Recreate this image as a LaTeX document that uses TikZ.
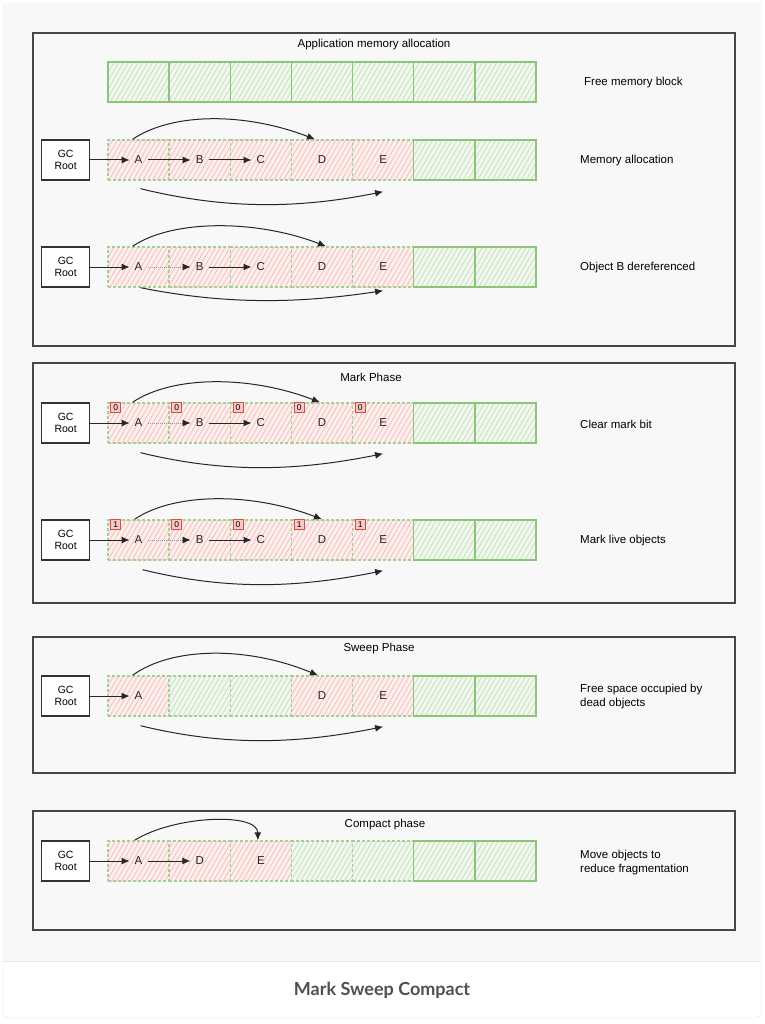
\documentclass[tikz,border=0pt]{standalone}
\usepackage{fontspec}
\setmainfont{Liberation Sans}
\newfontfamily\capfont{Lato}
\usetikzlibrary{arrows.meta,positioning,calc,patterns.meta}
\definecolor{pagebg}{HTML}{F8F8F8}
\definecolor{pageline}{HTML}{E6E6E6}
\definecolor{greenline}{HTML}{8CC47A}
\definecolor{greenfill}{HTML}{F2F8EF}
\definecolor{greenhatch}{HTML}{CDE5C3}
\definecolor{redfill}{HTML}{FCEFED}
\definecolor{redhatch}{HTML}{F5C6C1}
\definecolor{bitline}{HTML}{D0504A}
\definecolor{bitfill}{HTML}{F7C8C4}
\definecolor{captext}{HTML}{505050}

\begin{document}
\begin{tikzpicture}[x=1pt,y=-1pt,
  panel/.style={draw=black!72,line width=1.6pt,minimum width=702pt,inner sep=0pt},
  title/.style={font=\fontsize{11.5}{13}\selectfont,inner sep=1pt},
  cellbox/.style={minimum width=61.14pt,minimum height=40pt,inner sep=0pt,line width=1.4pt,
    pattern={Lines[angle=60,distance=4.2pt,line width=1pt]}},
  dashedge/.style={postaction={draw=greenline!80,line width=1.4pt,dash pattern=on 3pt off 2pt}},
  free/.style={cellbox,draw=greenline,preaction={fill=greenfill},pattern color=greenhatch},
  freed/.style={cellbox,preaction={fill=greenfill},pattern color=greenhatch,dashedge},
  used/.style={cellbox,preaction={fill=redfill},pattern color=redhatch,dashedge},
  objtxt/.style={font=\fontsize{11.5}{11.5}\selectfont,inner sep=5pt,text=black!85},
  gcroot/.style={draw=black!80,fill=white,line width=1.3pt,minimum width=48pt,minimum height=40pt,
    align=center,inner sep=1pt,font=\fontsize{10.5}{12.5}\selectfont},
  bit/.style={draw=bitline,fill=bitfill,line width=0.8pt,inner sep=0pt,minimum size=10pt,
    anchor=north west,font=\fontsize{8.5}{8.5}\selectfont},
  note/.style={anchor=west,align=left,inner sep=0pt,font=\fontsize{11.5}{14}\selectfont},
  arr/.style={-{Latex[length=8pt,width=7pt]},line width=1pt,draw=black!85},
  deref/.style={arr,draw=black!40,densely dotted,-{Latex[length=8pt,width=7pt,color=black!85]}}]
\useasboundingbox (0,0) rectangle (764,1024);
% page and caption strip
\fill[white] (0,0) rectangle (764,1024);
\filldraw[draw=pageline,fill=white,rounded corners=5pt] (3,3) rectangle (761,1018);
\fill[pagebg] (3.5,3.5) rectangle (760.5,961);
\draw[pageline] (3.5,961.5) -- (760.5,961.5);
\node[font=\capfont\bfseries\fontsize{18}{21}\selectfont,text=captext] (caption) at (382,990) {Mark Sweep Compact};
% panels
\node[panel,minimum height=313pt] (alloc) at (384,189.5) {};
\node[panel,minimum height=240pt] (markph) at (384,483) {};
\node[panel,minimum height=136pt] (sweepph) at (384,705) {};
\node[panel,minimum height=119pt] (compactph) at (384,870.5) {};
\node[title] (t1) at (374,45) {Application memory allocation};
\node[title] (t2) at (371,377) {Mark Phase};
\node[title] (t3) at (379,649) {Sweep Phase};
\node[title] (t4) at (385,825) {Compact phase};
% free memory block
\foreach \k in {1,...,7}
  \node[free] (m0-\k) at ({77.43+61.14*\k},82) {};
\node[note] (n0) at (584,83) {Free memory block};
% memory allocation
\foreach \k/\t in {1/used,2/used,3/used,4/used,5/used,6/free,7/free}
  \node[\t] (m1-\k) at ({77.43+61.14*\k},160) {};
\foreach \k/\n in {1/A,2/B,3/C,4/D,5/E}
  \node[objtxt] (\n1) at (m1-\k) {\n};
\node[gcroot,left=17pt of m1-1] (gc1) {GC\\Root};
\draw[arr] (gc1) -- (A1);
\draw[arr] (A1) -- (B1);
\draw[arr] (B1) -- (C1);
\draw[arr] ($(m1-1.north)+(-6,0)$) .. controls +(40,-27) and +(-70,-27) .. ($(m1-4.north)+(-7,0)$);
\draw[arr] ($(m1-1.south)+(2,8)$) .. controls +(90,22) and +(-80,16) .. ($(m1-5.south)+(0,11)$);
\node[note] (n1) at (580,161) {Memory allocation};
% object B dereferenced
\foreach \k/\t in {1/used,2/used,3/used,4/used,5/used,6/free,7/free}
  \node[\t] (m2-\k) at ({77.43+61.14*\k},267) {};
\foreach \k/\n in {1/A,2/B,3/C,4/D,5/E}
  \node[objtxt] (\n2) at (m2-\k) {\n};
\node[gcroot,left=17pt of m2-1] (gc2) {GC\\Root};
\draw[arr] (gc2) -- (A2);
\draw[deref] (A2) -- (B2);
\draw[arr] (B2) -- (C2);
\draw[arr] ($(m2-1.north)+(-6,0)$) .. controls +(40,-27) and +(-70,-27) .. ($(m2-4.north)+(4,0)$);
\draw[arr] ($(m2-1.south)+(2,0)$) .. controls +(90,18) and +(-80,12) .. ($(m2-5.south)+(0,3)$);
\node[note] (n2) at (580,268) {Object B dereferenced};
% clear mark bit
\foreach \k/\t in {1/used,2/used,3/used,4/used,5/used,6/free,7/free}
  \node[\t] (m3-\k) at ({77.43+61.14*\k},423) {};
\foreach \k/\n in {1/A,2/B,3/C,4/D,5/E}
  \node[objtxt] (\n3) at (m3-\k) {\n};
\foreach \k/\b in {1/0,2/0,3/0,4/0,5/0}
  \node[bit] (b3-\k) at ($(m3-\k.north west)+(3,0)$) {\b};
\node[gcroot,left=17pt of m3-1] (gc3) {GC\\Root};
\draw[arr] (gc3) -- (A3);
\draw[deref] (A3) -- (B3);
\draw[arr] (B3) -- (C3);
\draw[arr] ($(m3-1.north)+(-6,0)$) .. controls +(40,-27) and +(-70,-27) .. ($(m3-4.north)+(-2,0)$);
\draw[arr] ($(m3-1.south)+(2,9)$) .. controls +(90,22) and +(-80,16) .. ($(m3-5.south)+(0,10)$);
\node[note] (n3) at (580,424) {Clear mark bit};
% mark live objects
\foreach \k/\t in {1/used,2/used,3/used,4/used,5/used,6/free,7/free}
  \node[\t] (m4-\k) at ({77.43+61.14*\k},540) {};
\foreach \k/\n in {1/A,2/B,3/C,4/D,5/E}
  \node[objtxt] (\n4) at (m4-\k) {\n};
\foreach \k/\b in {1/1,2/0,3/0,4/1,5/1}
  \node[bit] (b4-\k) at ($(m4-\k.north west)+(3,0)$) {\b};
\node[gcroot,left=17pt of m4-1] (gc4) {GC\\Root};
\draw[arr] (gc4) -- (A4);
\draw[deref] (A4) -- (B4);
\draw[arr] (B4) -- (C4);
\draw[arr] ($(m4-1.north)+(-4,0)$) .. controls +(40,-27) and +(-70,-27) .. ($(m4-4.north)+(0,0)$);
\draw[arr] ($(m4-1.south)+(4,9)$) .. controls +(90,22) and +(-80,16) .. ($(m4-5.south)+(0,10)$);
\node[note] (n4) at (580,541) {Mark live objects};
% sweep phase
\foreach \k/\t in {1/used,2/freed,3/freed,4/used,5/used,6/free,7/free}
  \node[\t] (m5-\k) at ({77.43+61.14*\k},696) {};
\node[objtxt] (A5) at (m5-1) {A};
\node[objtxt] (D5) at (m5-4) {D};
\node[objtxt] (E5) at (m5-5) {E};
\node[gcroot,left=17pt of m5-1] (gc5) {GC\\Root};
\draw[arr] (gc5) -- (A5);
\draw[arr] ($(m5-1.north)+(-6,0)$) .. controls +(40,-29) and +(-70,-29) .. ($(m5-4.north)+(-4,0)$);
\draw[arr] ($(m5-1.south)+(2,9)$) .. controls +(90,22) and +(-80,16) .. ($(m5-5.south)+(0,10)$);
\node[note] (n5) at (580,697) {Free space occupied by\\dead objects};
% compact phase
\foreach \k/\t in {1/used,2/used,3/used,4/freed,5/freed,6/free,7/free}
  \node[\t] (m6-\k) at ({77.43+61.14*\k},861) {};
\node[objtxt] (A6) at (m6-1) {A};
\node[objtxt] (D6) at (m6-2) {D};
\node[objtxt] (E6) at (m6-3) {E};
\node[gcroot,left=17pt of m6-1] (gc6) {GC\\Root};
\draw[arr] (gc6) -- (A6);
\draw[arr] (A6) -- (D6);
\draw[arr] ($(m6-1.north)+(-4,0)$) .. controls +(40,-25) and +(0,-28) .. ($(m6-3.north)+(-3,0)$);
\node[note] (n6) at (580,863) {Move objects to\\reduce fragmentation};
\end{tikzpicture}
\end{document}
